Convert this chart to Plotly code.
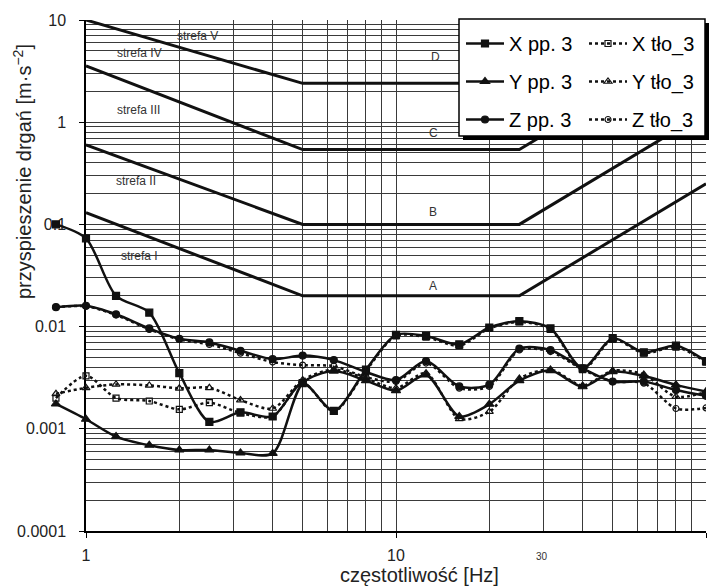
import plotly.graph_objects as go

# ---------------- data ----------------
freq = [0.8, 1, 1.25, 1.6, 2, 2.5, 3.15, 4, 5, 6.3, 8, 10, 12.5, 16, 20, 25, 31.5, 40, 50, 63, 80, 100]

x_pp = [0.1, 0.073, 0.020, 0.0137, 0.0035, 0.00117, 0.00145, 0.00132, 0.0028, 0.0015, 0.0038,
        0.0083, 0.0081, 0.0067, 0.0098, 0.0113, 0.0096, 0.0039, 0.0077, 0.0056, 0.0065, 0.0046]
y_pp = [0.00175, 0.00124, 0.00084, 0.00069, 0.00062, 0.00062, 0.00058, 0.000575, 0.0028, 0.00367, 0.00296,
        0.00236, 0.00336, 0.00132, 0.00174, 0.00296, 0.00371, 0.00258, 0.00362, 0.00329, 0.00269, 0.00231]
z_pp = [0.0155, 0.016, 0.0132, 0.0096, 0.0076, 0.0070, 0.0058, 0.0048, 0.0052, 0.0047, 0.0036,
        0.0030, 0.0046, 0.0026, 0.0027, 0.0061, 0.0059, 0.0039, 0.0029, 0.0029, 0.0024, 0.0021]
x_tlo = [0.0020, 0.0033, 0.0020, 0.00187, 0.00155, 0.0018, 0.00143, 0.00132, 0.0028, 0.00148, 0.0037,
         0.0081, 0.0079, 0.0065, 0.0096, 0.0111, 0.0094, 0.0038, 0.0075, 0.0055, 0.0063, 0.0045]
y_tlo = [0.0022, 0.00252, 0.00272, 0.00266, 0.00249, 0.00252, 0.00191, 0.00158, 0.0030, 0.0038, 0.0031,
         0.0025, 0.0035, 0.00125, 0.00147, 0.0031, 0.0038, 0.00265, 0.0037, 0.0034, 0.00206, 0.0023]
z_tlo = [0.0155, 0.0158, 0.013, 0.0094, 0.0075, 0.0067, 0.0055, 0.0045, 0.0042, 0.0041, 0.0032,
         0.0029, 0.0044, 0.0025, 0.0026, 0.0059, 0.0057, 0.0038, 0.0029, 0.0028, 0.00158, 0.0016]

zone_freq = [1, 5, 25, 100]
zone_A = [0.13, 0.02, 0.02, 0.25]
zone_B = [0.6, 0.1, 0.1, 1.25]
zone_C = [3.55, 0.54, 0.54, 6.75]
zone_D = [10, 2.4, 2.4, 30]

x_ticks = [1, 10, 100]
x_ticktext = ["1", "10", "100"]
y_ticks = [1e-4, 1e-3, 1e-2, 1e-1, 1, 10]
y_ticktext = ["0.0001", "0.001", "0.01", "0.1", "1", "10"]

# ---------------- layout helpers ----------------
W, H = 716, 588
ML, MR, MT, MB = 50, 10, 20, 57
PW = W - ML - MR
PH = H - MT - MB
AX_LEFT = 86          # pixel of x = 1 Hz
DEC_X = (W - MR - AX_LEFT) / 2.0


def px(x):
    return (x - ML) / PW


def py(y):
    return (H - MB - y) / PH


FONT = "Liberation Sans, Arial, sans-serif"
GRID = "#3a3a3a"
INK = "#111111"

x_minor = [m * d for d in (1, 10) for m in range(2, 10)]
y_minor = [m * d for d in (1e-4, 1e-3, 1e-2, 1e-1, 1) for m in range(2, 10)]

fig = go.Figure()

for zv in (zone_A, zone_B, zone_C, zone_D):
    fig.add_trace(go.Scatter(x=zone_freq, y=zv, mode="lines", xaxis="x", yaxis="y",
                             line=dict(color=INK, width=3), showlegend=False, hoverinfo="skip"))

series = [
    ("X pp. 3", x_pp, "square", 7, "solid", "legend"),
    ("Y pp. 3", y_pp, "triangle-up", 8, "solid", "legend"),
    ("Z pp. 3", z_pp, "circle", 7, "solid", "legend"),
    ("X tło_3", x_tlo, "square-open", 6, "dot", "legend2"),
    ("Y tło_3", y_tlo, "triangle-up-open", 7, "dot", "legend2"),
    ("Z tło_3", z_tlo, "circle-open", 6, "dot", "legend2"),
]
for name, vals, sym, size, dash, leg in series:
    fig.add_trace(go.Scatter(
        x=freq, y=vals, name=name, mode="lines+markers", xaxis="x2", yaxis="y2",
        line=dict(color=INK, width=2.5, dash=dash, shape="spline", smoothing=0.8),
        marker=dict(symbol=sym, size=size, color=INK, line=dict(color=INK, width=1.2)),
        legend=leg, legendgroup=name))

annotations = []
for txt, x, y in [("strefa V", 197, 36), ("strefa IV", 139, 53), ("strefa III", 138, 110),
                  ("strefa II", 136, 181), ("strefa I", 139, 256),
                  ("D", 435, 57), ("C", 433, 133), ("B", 433, 212), ("A", 433, 286)]:
    annotations.append(dict(text=txt, x=px(x), y=py(y), xref="paper", yref="paper",
                            showarrow=False, xanchor="center", yanchor="middle",
                            font=dict(family=FONT, size=12, color="#333")))
annotations.append(dict(text="30", x=px(542), y=py(556), xref="paper", yref="paper",
                        showarrow=False, xanchor="center", yanchor="middle",
                        font=dict(family=FONT, size=10, color="#333")))
annotations.append(dict(text="częstotliwość [Hz]", x=px(420), y=py(575), xref="paper", yref="paper",
                        showarrow=False, xanchor="center", yanchor="middle",
                        font=dict(family=FONT, size=20, color="#222")))
annotations.append(dict(text="przyspieszenie drgań [m·s<sup>−2</sup>]", x=px(22), y=py(172),
                        xref="paper", yref="paper", textangle=-90, showarrow=False,
                        xanchor="center", yanchor="middle",
                        font=dict(family=FONT, size=20, color="#222")))

shapes = [
    dict(type="rect", xref="paper", yref="paper", x0=px(463), x1=px(709), y0=py(140), y1=py(23),
         fillcolor="black", line=dict(width=0), layer="above"),
    dict(type="rect", xref="paper", yref="paper", x0=px(459), x1=px(705), y0=py(136), y1=py(19),
         fillcolor="white", line=dict(color="black", width=1.5), layer="above"),
]

legend_common = dict(bgcolor="rgba(0,0,0,0)", borderwidth=0, font=dict(family=FONT, size=20, color="black"),
                     itemwidth=38, tracegroupgap=9, xanchor="left", yanchor="top", orientation="v")

fig.update_layout(
    width=W, height=H, margin=dict(l=ML, r=MR, t=MT, b=MB),
    paper_bgcolor="white", plot_bgcolor="rgba(0,0,0,0)",
    font=dict(family=FONT, color="#222"),
    xaxis=dict(type="log", range=[0, 2], domain=[px(AX_LEFT), 1], anchor="y",
               tickmode="array", tickvals=x_ticks, ticktext=x_ticktext,
               ticks="outside", ticklen=5, tickcolor="black", ticklabelstandoff=4,
               tickfont=dict(family=FONT, size=16, color="#222"),
               showgrid=True, gridcolor=GRID, gridwidth=1,
               minor=dict(tickmode="array", tickvals=x_minor, showgrid=True, gridcolor=GRID, gridwidth=1),
               showline=True, linecolor="black", linewidth=2, zeroline=False),
    yaxis=dict(type="log", range=[-4, 1], domain=[0, 1], anchor="x",
               tickmode="array", tickvals=y_ticks, ticktext=y_ticktext,
               ticks="outside", ticklen=5, tickcolor="black", ticklabelstandoff=10,
               tickfont=dict(family=FONT, size=16, color="#222"),
               showgrid=True, gridcolor=GRID, gridwidth=1,
               minor=dict(tickmode="array", tickvals=y_minor, showgrid=True, gridcolor=GRID, gridwidth=1),
               showline=True, linecolor="black", linewidth=1.5, zeroline=False),
    xaxis2=dict(type="log", range=[2 - PW / DEC_X, 2], domain=[0, 1], anchor="y2", visible=False),
    yaxis2=dict(type="log", range=[-4, 1], domain=[0, 1], anchor="x2", visible=False),
    legend=dict(x=px(461), y=py(24), **legend_common),
    legend2=dict(x=px(584), y=py(24), **legend_common),
    annotations=annotations, shapes=shapes,
)

fig.write_html("out.html")
